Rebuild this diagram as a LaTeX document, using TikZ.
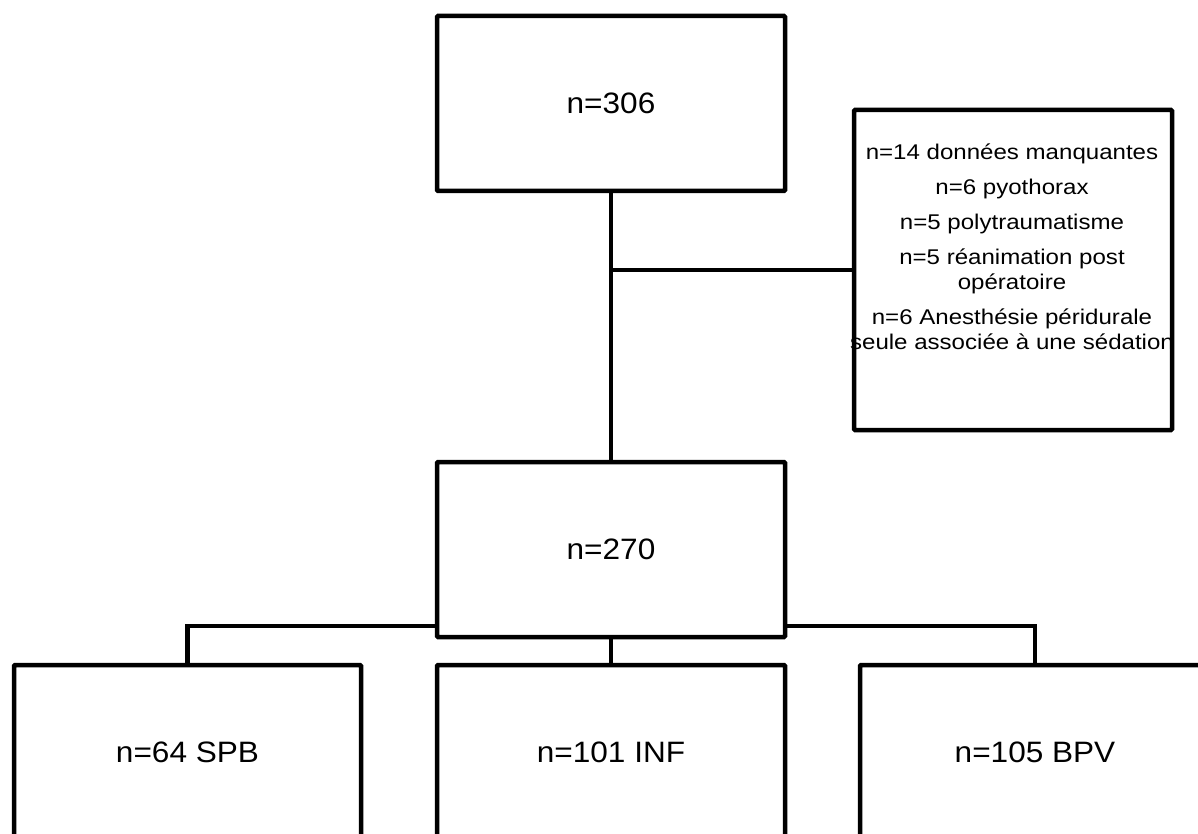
\documentclass[tikz,border=0pt]{standalone}
\usepackage{fontspec}
\setmainfont{Liberation Sans}
\newfontfamily\bigf[FakeStretch=1.07]{Liberation Sans}
\newfontfamily\smallf[FakeStretch=1.13]{Liberation Sans}
\begin{document}
\begin{tikzpicture}[x=1pt,y=-1pt,
  box/.style={draw=black, line width=4.5pt, fill=white, minimum width=348pt,
              minimum height=175pt, inner sep=0pt, rounded corners=1pt},
  link/.style={draw=black, line width=4.3pt},
  bigtext/.style={font=\bigf\fontsize{29.5}{34}\selectfont},
  smalltext/.style={font=\smallf\fontsize{21.3}{25}\selectfont, align=center, inner sep=0pt}
]
\useasboundingbox (0,0) rectangle (1198,834);
\clip (0,0) rectangle (1198,834);

\node[box,bigtext] (top) at (611,103.5) {n=306};
\node[box,minimum width=318pt,minimum height=320pt] (rb) at (1013,270) {};
\node[smalltext,anchor=north] (rbt) at (1012,144) {n=14 données manquantes\\[10pt]
n=6 pyothorax\\[10pt]
n=5 polytraumatisme\\[10pt]
n=5 réanimation post\\
opératoire\\[10pt]
n=6 Anesthésie péridurale\\
seule associée à une sédation};
\node[box,bigtext] (mid) at (611,549.5) {n=270};
\node[box,bigtext,minimum width=347pt] (b1) at (187.5,752.5) {n=64 SPB};
\node[box,bigtext] (b2) at (611,752.5) {n=101 INF};
\node[box,bigtext,minimum width=350pt] (b3) at (1035,752.5) {n=105 BPV};

\coordinate (bus) at (611,626);
\draw[link] (top.south) -- (mid.north);
\draw[link] (top.south |- rb.west) -- (rb.west);
\draw[link] (mid.south) -- (b2.north);
\draw[link] (b1.north) |- (mid.west |- bus);
\draw[link] (b3.north) |- (mid.east |- bus);
\end{tikzpicture}
\end{document}
